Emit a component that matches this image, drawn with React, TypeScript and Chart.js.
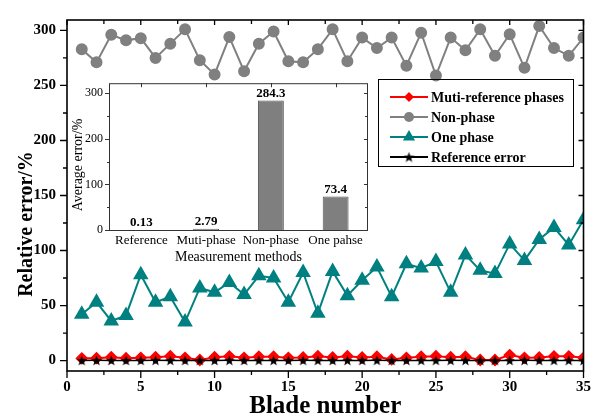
import React, { useEffect, useRef } from "react";
import { Chart, registerables } from "chart.js";

Chart.register(...registerables);

// ---------- data ----------
const blades = [1, 2, 3, 4, 5, 6, 7, 8, 9, 10, 11, 12, 13, 14, 15, 16, 17, 18, 19, 20, 21, 22, 23, 24, 25, 26, 27, 28, 29, 30, 31, 32, 33, 34, 35];
const multiRefPhases = [2.0, 2.2, 3.0, 2.2, 2.5, 3.0, 4.0, 2.5, 0.5, 3.0, 3.8, 2.5, 3.5, 3.5, 2.5, 2.8, 4.0, 2.8, 4.0, 2.8, 3.5, 1.0, 2.5, 3.5, 4.0, 3.0, 3.5, 0.5, 0.5, 5.0, 2.5, 2.8, 3.8, 3.8, 2.5];
const nonPhase = [283, 271, 296, 291, 293, 275, 288, 301, 273, 260, 294, 263, 288, 299, 272, 271, 283, 301, 272, 293.5, 284, 293.5, 268, 298, 259, 293.5, 282, 301, 277, 296.5, 266, 304, 284, 277, 293.5];
const onePhase = [42, 53, 36, 41, 78, 53, 58, 35, 66, 62, 71, 60, 77, 75, 53, 80, 43, 81, 59, 73, 85, 58, 88, 84, 90, 62, 96, 82, 79, 106, 91, 110, 121, 105, 128];
const referenceError = [0.1, 0.2, 0.1, 0.15, 0.1, 0.2, 0.1, 0.1, 0.15, 0.1, 0.2, 0.1, 0.1, 0.15, 0.1, 0.2, 0.1, 0.1, 0.15, 0.1, 0.2, 0.1, 0.1, 0.15, 0.1, 0.2, 0.1, 0.1, 0.15, 0.1, 0.2, 0.1, 0.1, 0.15, 0.1];

const seriesNames = ["Muti-reference phases", "Non-phase", "One phase", "Reference error"];
const seriesColors = ["#ff0000", "#808080", "#008080", "#000000"];

const mainXTicks = [0, 5, 10, 15, 20, 25, 30, 35];
const mainYTicks = [0, 50, 100, 150, 200, 250, 300];
const xTitle = "Blade number";
const yTitle = "Relative error/%";

const insetCategories = ["Reference", "Muti-phase", "Non-phase", "One pahse"];
const insetValues = [0.13, 2.79, 284.3, 73.4];
const insetValueLabels = ["0.13", "2.79", "284.3", "73.4"];
const insetYTicks = [0, 100, 200, 300];
const insetXTitle = "Measurement methods";
const insetYTitle = "Average error/%";

const FONT = "'Liberation Serif', 'Times New Roman', serif";

function makeStar(size: number, color: string): HTMLCanvasElement {
  const c = document.createElement("canvas");
  c.width = size;
  c.height = size;
  const ctx = c.getContext("2d")!;
  const cx = size / 2, cy = size / 2 + 0.5, R = size / 2, r = R * 0.42;
  ctx.beginPath();
  for (let i = 0; i < 10; i++) {
    const ang = -Math.PI / 2 + (i * Math.PI) / 5;
    const rad = i % 2 === 0 ? R : r;
    const px = cx + rad * Math.cos(ang);
    const py = cy + rad * Math.sin(ang);
    if (i === 0) ctx.moveTo(px, py);
    else ctx.lineTo(px, py);
  }
  ctx.closePath();
  ctx.fillStyle = color;
  ctx.fill();
  return c;
}

function midpoints(arr: number[]): number[] {
  const out: number[] = [];
  for (let i = 0; i < arr.length - 1; i++) out.push((arr[i] + arr[i + 1]) / 2);
  return out;
}

export default function App() {
  const mainRef = useRef<HTMLCanvasElement | null>(null);
  const insetRef = useRef<HTMLCanvasElement | null>(null);

  useEffect(() => {
    const star = makeStar(11, "#000");

    const mainDecor = {
      id: "mainDecor",
      afterDraw(chart: any) {
        const { ctx, chartArea: a, scales } = chart;
        const xs = scales.x, ys = scales.y;
        ctx.save();
        ctx.strokeStyle = "#000";
        ctx.lineWidth = 1.6;
        ctx.strokeRect(a.left, a.top, a.right - a.left, a.bottom - a.top);
        ctx.lineWidth = 1.3;
        ctx.beginPath();
        const yAll = [...mainYTicks.map((v) => [v, 1]), ...midpoints(mainYTicks).map((v) => [v, 0])];
        yAll.forEach(([v, major]) => {
          const y = ys.getPixelForValue(v);
          ctx.moveTo(a.left, y);
          ctx.lineTo(a.left - (major ? 7 : 4), y);
          ctx.moveTo(a.right, y);
          ctx.lineTo(a.right - (major ? 5 : 3), y);
        });
        const xAll = [...mainXTicks.map((v) => [v, 1]), ...midpoints(mainXTicks).map((v) => [v, 0])];
        xAll.forEach(([v, major]) => {
          const x = xs.getPixelForValue(v);
          ctx.moveTo(x, a.bottom);
          ctx.lineTo(x, a.bottom + (major ? 7 : 4));
          ctx.moveTo(x, a.top);
          ctx.lineTo(x, a.top + (major ? 5 : 4));
        });
        ctx.stroke();

        // titles
        ctx.fillStyle = "#000";
        ctx.textAlign = "center";
        ctx.textBaseline = "middle";
        ctx.font = `bold 25px ${FONT}`;
        ctx.fillText(xTitle, (a.left + a.right) / 2, 407);
        ctx.save();
        ctx.translate(27, 224);
        ctx.rotate(-Math.PI / 2);
        ctx.font = `bold 20px ${FONT}`;
        ctx.fillText(yTitle, 0, 0);
        ctx.restore();

        // legend
        const lx = 378, ly = 79, lw = 195, lh = 87;
        ctx.lineWidth = 1;
        ctx.strokeStyle = "#000";
        ctx.strokeRect(lx + 0.5, ly + 0.5, lw, lh);
        ctx.font = `bold 14px ${FONT}`;
        ctx.textAlign = "left";
        seriesNames.forEach((name, i) => {
          const y = ly + 18 + i * 20;
          const col = seriesColors[i];
          ctx.strokeStyle = col;
          ctx.lineWidth = 2;
          ctx.beginPath();
          ctx.moveTo(390, y);
          ctx.lineTo(428, y);
          ctx.stroke();
          ctx.fillStyle = col;
          const mx = 409;
          ctx.beginPath();
          if (i === 0) {
            ctx.moveTo(mx, y - 5);
            ctx.lineTo(mx + 5, y);
            ctx.lineTo(mx, y + 5);
            ctx.lineTo(mx - 5, y);
            ctx.closePath();
            ctx.fill();
          } else if (i === 1) {
            ctx.arc(mx, y, 5, 0, Math.PI * 2);
            ctx.fill();
          } else if (i === 2) {
            ctx.moveTo(mx, y - 7);
            ctx.lineTo(mx + 6.1, y + 3.5);
            ctx.lineTo(mx - 6.1, y + 3.5);
            ctx.closePath();
            ctx.fill();
          } else {
            ctx.drawImage(star, mx - star.width / 2, y - star.height / 2);
          }
          ctx.fillStyle = "#000";
          ctx.fillText(name, 431, y + 1);
        });
        ctx.restore();
      },
    };

    const toPts = (vals: number[]) => blades.map((b, i) => ({ x: b, y: vals[i] }));

    const main = new Chart(mainRef.current!, {
      type: "line",
      data: {
        datasets: [
          {
            label: seriesNames[3],
            data: toPts(referenceError),
            borderColor: seriesColors[3],
            backgroundColor: seriesColors[3],
            borderWidth: 1.5,
            pointStyle: star as any,
            pointRadius: 5,
            order: 0,
          },
          {
            label: seriesNames[0],
            data: toPts(multiRefPhases),
            borderColor: seriesColors[0],
            backgroundColor: seriesColors[0],
            borderWidth: 2,
            pointStyle: "rectRot",
            pointRadius: 5,
            order: 1,
          },
          {
            label: seriesNames[2],
            data: toPts(onePhase),
            borderColor: seriesColors[2],
            backgroundColor: seriesColors[2],
            borderWidth: 2,
            pointStyle: "triangle",
            pointRadius: 7,
            order: 2,
          },
          {
            label: seriesNames[1],
            data: toPts(nonPhase),
            borderColor: seriesColors[1],
            backgroundColor: seriesColors[1],
            borderWidth: 2,
            pointStyle: "circle",
            pointRadius: 5,
            order: 3,
          },
        ],
      },
      options: {
        animation: false,
        responsive: false,
        events: [],
        layout: { padding: { top: 11, right: 6, left: 0, bottom: 0 } },
        plugins: { legend: { display: false }, tooltip: { enabled: false } },
        scales: {
          x: {
            type: "linear",
            min: 0,
            max: 35,
            grid: { display: false, drawTicks: false },
            border: { display: false },
            afterBuildTicks: (axis: any) => {
              axis.ticks = mainXTicks.map((v) => ({ value: v }));
            },
            ticks: {
              autoSkip: false,
              maxRotation: 0,
              color: "#000",
              padding: 7,
              font: { family: FONT, size: 15, weight: "bold" },
            },
            afterFit: (axis: any) => {
              axis.height = 49;
            },
          },
          y: {
            type: "linear",
            min: -9.5,
            max: 309.5,
            grid: { display: false, drawTicks: false },
            border: { display: false },
            afterBuildTicks: (axis: any) => {
              axis.ticks = mainYTicks.map((v) => ({ value: v }));
            },
            ticks: {
              autoSkip: false,
              color: "#000",
              padding: 11,
              font: { family: FONT, size: 15, weight: "bold" },
            },
            afterFit: (axis: any) => {
              axis.width = 67;
            },
          },
        },
      },
      plugins: [mainDecor],
    });

    const insetDecor = {
      id: "insetDecor",
      afterDatasetsDraw(chart: any) {
        const { ctx } = chart;
        const meta = chart.getDatasetMeta(0);
        ctx.save();
        ctx.fillStyle = "#000";
        ctx.font = `bold 13px ${FONT}`;
        ctx.textAlign = "center";
        ctx.textBaseline = "middle";
        meta.data.forEach((bar: any, i: number) => {
          ctx.fillText(insetValueLabels[i], bar.x, bar.y - 7);
        });
        ctx.restore();
      },
      afterDraw(chart: any) {
        const { ctx, chartArea: a, scales } = chart;
        const xs = scales.x, ys = scales.y;
        ctx.save();
        ctx.strokeStyle = "#333";
        ctx.lineWidth = 1;
        ctx.strokeRect(a.left + 0.5, a.top + 0.5, a.right - a.left - 1, a.bottom - a.top);
        ctx.beginPath();
        const yAll = [...insetYTicks.map((v) => [v, 1]), ...midpoints(insetYTicks).map((v) => [v, 0])];
        yAll.forEach(([v, major]) => {
          const y = Math.round(ys.getPixelForValue(v)) + 0.5;
          ctx.moveTo(a.left, y);
          ctx.lineTo(a.left - (major ? 4 : 2), y);
          ctx.moveTo(a.right, y);
          ctx.lineTo(a.right - (major ? 4 : 3), y);
        });
        insetCategories.forEach((_, i) => {
          const x = Math.round(xs.getPixelForValue(i)) + 0.5;
          ctx.moveTo(x, a.top);
          ctx.lineTo(x, a.top + 4);
        });
        ctx.stroke();
        ctx.fillStyle = "#000";
        ctx.textAlign = "center";
        ctx.textBaseline = "middle";
        ctx.font = `14px ${FONT}`;
        ctx.fillText(insetXTitle, (a.left + a.right) / 2, 187);
        ctx.save();
        ctx.translate(18, 95);
        ctx.rotate(-Math.PI / 2);
        ctx.fillText(insetYTitle, 0, 0);
        ctx.restore();
        ctx.restore();
      },
    };

    const inset = new Chart(insetRef.current!, {
      type: "bar",
      data: {
        labels: insetCategories,
        datasets: [
          {
            data: insetValues,
            backgroundColor: "#7f7f7f",
            borderColor: "#555555",
            borderWidth: 1,
            barPercentage: 0.4,
            categoryPercentage: 1,
          },
        ],
      },
      options: {
        animation: false,
        responsive: false,
        events: [],
        layout: { padding: { top: 8, right: 7, left: 0, bottom: 0 } },
        plugins: { legend: { display: false }, tooltip: { enabled: false } },
        scales: {
          x: {
            grid: { display: false, drawTicks: false },
            border: { display: false },
            ticks: {
              autoSkip: false,
              maxRotation: 0,
              minRotation: 0,
              color: "#000",
              padding: 3,
              font: { family: FONT, size: 13 },
            },
            afterFit: (axis: any) => {
              axis.height = 38;
            },
          },
          y: {
            min: 0,
            max: 322,
            grid: { display: false, drawTicks: false },
            border: { display: false },
            afterBuildTicks: (axis: any) => {
              axis.ticks = insetYTicks.map((v) => ({ value: v }));
            },
            ticks: {
              autoSkip: false,
              color: "#000",
              padding: 6,
              font: { family: FONT, size: 12 },
            },
            afterFit: (axis: any) => {
              axis.width = 49;
            },
          },
        },
      },
      plugins: [insetDecor],
    });

    return () => {
      main.destroy();
      inset.destroy();
    };
  }, []);

  return (
    <div style={{ position: "absolute", left: 0, top: 0, width: 598, height: 420, background: "#fff", overflow: "hidden" }}>
      <canvas ref={mainRef} width={598} height={420} style={{ position: "absolute", left: 0, top: 0, width: 598, height: 420 }} />
      <canvas ref={insetRef} width={315} height={198} style={{ position: "absolute", left: 60, top: 70, width: 315, height: 198 }} />
    </div>
  );
}
